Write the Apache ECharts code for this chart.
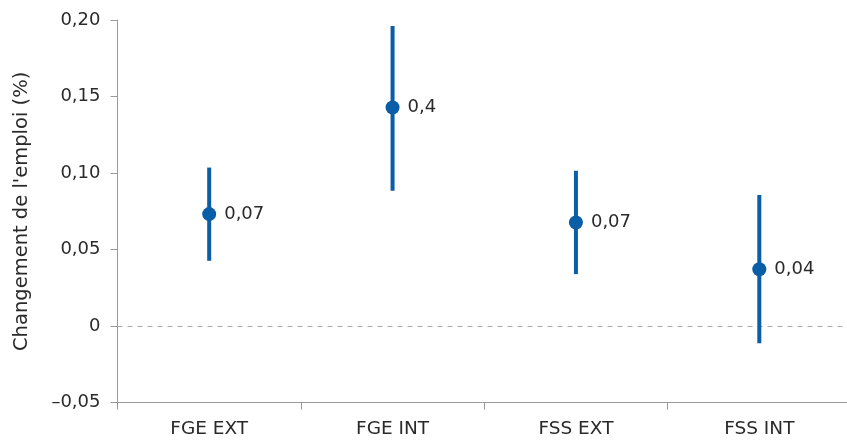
<!DOCTYPE html>
<html>
<head>
<meta charset="utf-8">
<script src="https://cdn.jsdelivr.net/npm/echarts@6/dist/echarts.min.js"></script>
<style>
  html, body { margin: 0; padding: 0; background: #fff; }
  #chart { width: 847px; height: 440px; }
</style>
</head>
<body>
<div id="chart"></div>
<script>
// Groups along the horizontal axis
const categories = ['FGE EXT', 'FGE INT', 'FSS EXT', 'FSS INT'];
// Point estimates of the employment change (%)
const estimates = [0.0732, 0.1428, 0.0677, 0.0372];
// Confidence interval bounds
const lowerBounds = [0.0427, 0.0884, 0.0340, -0.0111];
const upperBounds = [0.1036, 0.1961, 0.1015, 0.0856];
// Value labels printed next to each point
const valueLabels = ['0,07', '0,4', '0,07', '0,04'];

const BLUE = '#0a5ea8';
const TEXT = '#2a2a2a';
const AXIS = '#9a9a9a';
const FONT = '"DejaVu Sans", sans-serif';

const chart = echarts.init(document.getElementById('chart'), null, { renderer: 'canvas' });

const fmtTick = v => {
  if (Math.abs(v) < 1e-9) return '0';
  const s = Math.abs(v).toFixed(2).replace('.', ',');
  return v < 0 ? '\u2013' + s : s;
};

chart.setOption({
  animation: false,
  grid: { left: 117.5, right: -4, top: 20, bottom: 37.3, containLabel: false, outerBoundsMode: 'none' },
  xAxis: {
    type: 'category',
    data: categories,
    boundaryGap: true,
    axisLine: { onZero: false, lineStyle: { color: AXIS, width: 1 } },
    axisTick: { show: true, length: 7, lineStyle: { color: AXIS } },
    axisLabel: { color: TEXT, fontSize: 18.5, fontFamily: FONT, margin: 17 },
    splitLine: { show: false }
  },
  yAxis: {
    type: 'value',
    min: -0.05,
    max: 0.2,
    interval: 0.05,
    name: "Changement de l'emploi (%)",
    nameLocation: 'middle',
    nameGap: 86,
    nameTextStyle: { color: TEXT, fontSize: 19.5, fontFamily: FONT },
    axisLine: { show: true, lineStyle: { color: AXIS, width: 1 } },
    axisTick: { show: true, length: 7, lineStyle: { color: AXIS } },
    axisLabel: { color: TEXT, fontSize: 18, fontFamily: FONT, margin: 17, formatter: fmtTick },
    splitLine: { show: false }
  },
  series: [
    {
      // Vertical interval whiskers
      type: 'custom',
      data: categories.map((c, i) => [i, lowerBounds[i], upperBounds[i]]),
      renderItem: (params, api) => {
        const lo = api.coord([api.value(0), api.value(1)]);
        const hi = api.coord([api.value(0), api.value(2)]);
        return {
          type: 'line',
          shape: { x1: lo[0], y1: lo[1], x2: hi[0], y2: hi[1] },
          style: { stroke: BLUE, lineWidth: 4 }
        };
      },
      encode: { x: 0, y: [1, 2] },
      z: 3
    },
    {
      // Point estimates with value labels
      type: 'scatter',
      data: estimates.map((v, i) => [i, v]),
      symbol: 'circle',
      symbolSize: 14,
      itemStyle: { color: BLUE, opacity: 1 },
      label: {
        show: true,
        position: 'right',
        distance: 8,
        color: TEXT,
        fontSize: 18,
        fontFamily: FONT,
        formatter: p => valueLabels[p.dataIndex]
      },
      markLine: {
        silent: true,
        symbol: 'none',
        label: { show: false },
        lineStyle: { color: '#aaaaaa', type: [5, 5], width: 1 },
        data: [{ yAxis: 0 }],
        z: 1
      },
      z: 4
    }
  ]
});
</script>
</body>
</html>
